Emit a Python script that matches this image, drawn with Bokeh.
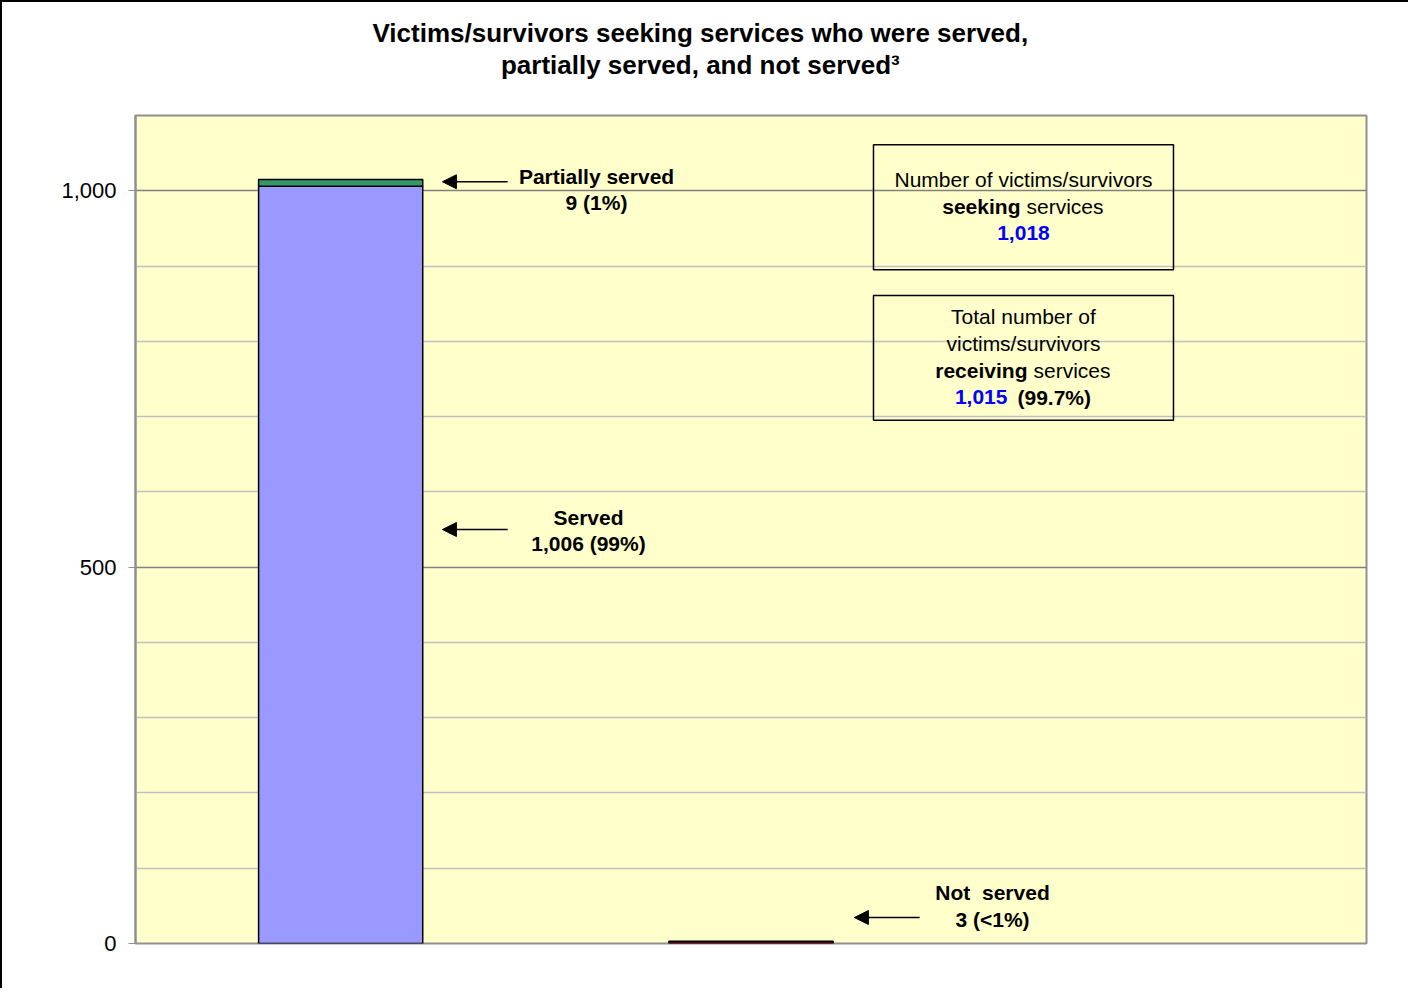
from bokeh.plotting import figure
from bokeh.models import (Label, Arrow, NormalHead, BoxAnnotation, FixedTicker,
                          NumeralTickFormatter, Range1d, ColumnDataSource, Title)
from bokeh.embed import file_html
from bokeh.resources import INLINE

# ---- data ----
categories = ["Served / partially served", "Not served", "(none)"]
served = [1006, 0, 0]
partially_served = [9, 0, 0]
not_served = [0, 3, 0]
seeking_total = 1018
receiving_total = 1015
y_ticks = [0, 500, 1000]
y_minor = [100, 200, 300, 400, 600, 700, 800, 900]

FONT = "Liberation Sans"

# ---- stacked segments ----
xs, bottoms, tops, colors = [], [], [], []
series = [(served, "#9999FF"), (partially_served, "#339966"), (not_served, "#800000")]
for i, _ in enumerate(categories):
    base = 0
    for vals, col in series:
        v = vals[i]
        if v > 0:
            xs.append(i + 0.5)
            bottoms.append(base)
            tops.append(base + v)
            colors.append(col)
        base += v
src = ColumnDataSource(dict(x=xs, bottom=bottoms, top=tops, color=colors))

p = figure(frame_width=1231, frame_height=828, min_border_left=133, min_border_top=113,
           min_border_right=42, min_border_bottom=45,
           x_range=Range1d(0, len(categories)), y_range=Range1d(0, 1100),
           output_backend="svg", toolbar_location=None, tools="")
p.styles = {"border-left": "2px solid black", "border-top": "2px solid black"}

p.background_fill_color = "#FFFFCC"
p.border_fill_color = "white"
p.outline_line_color = "#909090"
p.outline_line_width = 2

p.vbar(x="x", bottom="bottom", top="top", width=0.4, fill_color="color",
       line_color="black", line_width=1.5, source=src)

# axes
p.xaxis.visible = False
p.xgrid.visible = False
ya = p.yaxis[0]
ya.ticker = FixedTicker(ticks=y_ticks)
ya.formatter = NumeralTickFormatter(format="0,0")
ya.axis_line_color = "#909090"
ya.axis_line_width = 2
ya.major_tick_line_color = "#909090"
ya.major_tick_out = 7
ya.major_tick_in = 0
ya.minor_tick_line_color = None
ya.major_label_text_font = FONT
ya.major_label_text_font_size = "22px"
ya.major_label_text_color = "black"
ya.major_label_standoff = 12
p.ygrid.ticker = FixedTicker(ticks=y_ticks, minor_ticks=y_minor)
p.ygrid.grid_line_color = "#808080"
p.ygrid.grid_line_width = 1.5
p.ygrid.minor_grid_line_color = "#C0C0C0"
p.ygrid.minor_grid_line_width = 1.5

# two-line title (trailing empty line keeps it clear of the frame)
p.add_layout(Title(text="Victims/survivors seeking services who were served,\n"
                        "partially served, and not served\u00b3\n",
                   align="left", offset=237, text_align="center", text_line_height=1.067,
                   text_font=FONT, text_font_size="26px", text_font_style="bold",
                   text_color="black", standoff=6), "above")


def lab(x, y, text, size="21px", bold=False, color="black", align="center", xoff=0):
    p.add_layout(Label(x=x, y=y, text=text, text_font=FONT, text_font_size=size,
                       text_font_style="bold" if bold else "normal", text_color=color,
                       text_align=align, text_baseline="middle", x_offset=xoff))


# arrows + callouts
head = dict(size=14, fill_color="black", line_color="black")
p.add_layout(Arrow(end=NormalHead(**head), x_start=0.907, y_start=1012, x_end=0.748, y_end=1012,
                   line_width=1.5))
p.add_layout(Arrow(end=NormalHead(**head), x_start=0.907, y_start=550, x_end=0.748, y_end=550,
                   line_width=1.5))
p.add_layout(Arrow(end=NormalHead(**head), x_start=1.911, y_start=34.5, x_end=1.752, y_end=34.5,
                   line_width=1.5))

lab(1.1235, 1018.6, "Partially served", bold=True)
lab(1.1235, 984, f"{partially_served[0]} (1%)", bold=True)
lab(1.104, 566, "Served", bold=True)
lab(1.104, 532, f"{served[0]:,} (99%)", bold=True)
lab(2.0886, 67.6, "Not\u00a0\u00a0served", bold=True)
lab(2.0886, 31.8, f"{not_served[1]} (<1%)", bold=True)

# boxes
p.add_layout(BoxAnnotation(left=1.7985, right=2.5296, top=1061, bottom=895,
                           fill_color=None, line_color="black", line_width=1.5, line_alpha=1))
p.add_layout(BoxAnnotation(left=1.7985, right=2.5296, top=861, bottom=695,
                           fill_color=None, line_color="black", line_width=1.5, line_alpha=1))
cx = 2.164
lab(cx, 1014.6, "Number of victims/survivors")
lab(cx, 978.8, "seeking", bold=True, align="right", xoff=-3)
lab(cx, 978.8, "services", align="left", xoff=3)
lab(cx, 944.3, f"{seeking_total:,}", bold=True, color="#0000FF")

lab(cx, 832.9, "Total number of")
lab(cx, 797, "victims/survivors")
lab(cx, 761.3, "receiving", bold=True, align="right", xoff=4)
lab(cx, 761.3, "services", align="left", xoff=10)
lab(cx, 725.5, f"{receiving_total:,}", bold=True, color="#0000FF", align="right", xoff=-16)
lab(cx, 725.5, "(99.7%)", bold=True, align="left", xoff=-6)

open("out.html", "w").write(file_html(p, INLINE))
